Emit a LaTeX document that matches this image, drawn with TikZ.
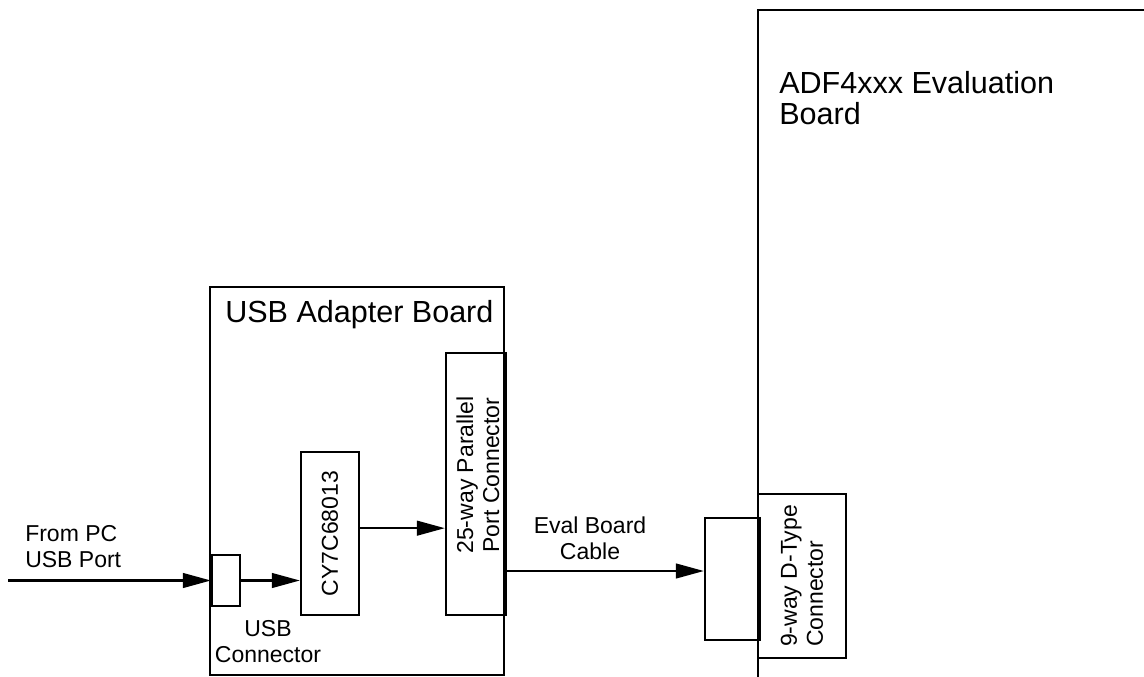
\documentclass[tikz,border=0pt]{standalone}
\usepackage{fontspec}
\setmainfont{Liberation Sans}
\usepackage{tikz}
\usetikzlibrary{arrows.meta,calc,positioning}
\tikzset{
  box/.style={draw, line width=1.7pt, inner sep=0pt},
  thickside/.style={line width=3.2pt},
  lbl/.style={font=\fontsize{17.25}{19.5}\selectfont, inner sep=0pt, align=center},
  title/.style={font=\fontsize{22.9}{23.25}\selectfont, inner sep=0pt, align=left},
  sig/.style={line width=1.7pt, -{Triangle[length=21pt,width=11pt]}}
}
\begin{document}
\begin{tikzpicture}[x=0.75pt, y=-0.75pt]
\useasboundingbox (0,0) rectangle (1144,677);
          \node[box, minimum width=220.5pt, minimum height=291pt] (usbboard) at (357,481) {};
          \node[title, anchor=north west] (usbboardlbl) at (225,300) {USB Adapter Board};
          \node[box, minimum width=21pt, minimum height=38.25pt] (usbconn) at (226,580.5) {};
          \node[box, minimum width=43.5pt, minimum height=122.25pt] (cy) at (330,533.5) {};
          \node[lbl, rotate=90] (cytext) at (cy) {CY7C68013};
          \node[box, minimum width=43.5pt, minimum height=196.5pt] (par) at (475,484) {};
          \node[lbl, rotate=90] (partext) at (478,475) {25-way Parallel\\Port Connector};
          \coordinate (adfbl) at (758,677);
          \coordinate (adftl) at (758,10);
          \coordinate (adftr) at (1144,10);
          \draw[line width=1.7pt] (adfbl) -- (adftl) -- (adftr);
          \node[title, anchor=north west] (adflbl) at (779,71) {ADF4xxx Evaluation\\Board};
          \node[box, minimum width=39.75pt, minimum height=91.5pt] (dsub) at (731.5,579) {};
          \node[box, minimum width=66pt, minimum height=123pt] (dtype) at (802,576) {};
          \node[lbl, rotate=90, align=left] (dtypetext) at (dtype) {9-way D-Type\\Connector};
          \node[lbl, anchor=north west, align=left] (pclbl) at (25,525) {From PC\\USB Port};
          \node[lbl, anchor=north] (usbconnlbl) at (268,620) {USB\\Connector};
          \node[lbl, anchor=north] (cablelbl) at (590,517) {Eval Board\\Cable};
          \coordinate (pcin) at (8,580.5);
          \coordinate (cyout) at ([yshift=4pt]cy.east);
          \coordinate (cabin) at ([yshift=6pt]dsub.west);
          \draw[sig] (pcin) -- (usbconn.west);
          \draw[sig] (usbconn.east) -- (usbconn.east -| cy.west);
          \draw[sig] (cyout) -- (cyout -| par.west);
          \draw[sig] (cabin -| par.east) -- (cabin);
          \draw[thickside] (usbconn.north west) -- (usbconn.south west);
          \draw[thickside] (par.north east) -- (par.south east);
          \draw[thickside] (dsub.north east) -- (dsub.south east);
\end{tikzpicture}
\end{document}
